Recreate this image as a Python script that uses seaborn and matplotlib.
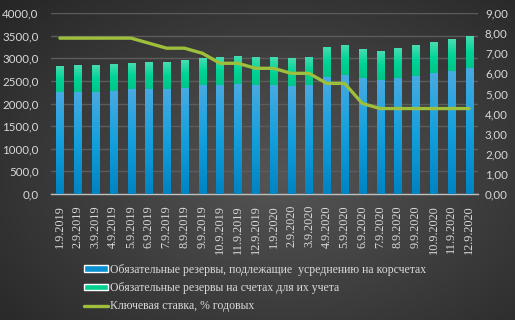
import numpy as np
import pandas as pd
import seaborn as sns
import matplotlib.pyplot as plt
from matplotlib.ticker import FuncFormatter, MultipleLocator, FixedLocator
from matplotlib.patches import Patch
from matplotlib.lines import Line2D
from matplotlib.colors import LinearSegmentedColormap

dates = ['1.9.2019', '2.9.2019', '3.9.2019', '4.9.2019', '5.9.2019', '6.9.2019',
         '7.9.2019', '8.9.2019', '9.9.2019', '10.9.2019', '11.9.2019', '12.9.2019',
         '1.9.2020', '2.9.2020', '3.9.2020', '4.9.2020', '5.9.2020', '6.9.2020',
         '7.9.2020', '8.9.2020', '9.9.2020', '10.9.2020', '11.9.2020', '12.9.2020']
# обязательные резервы, подлежащие усреднению (млрд руб.)
averaged = [2255, 2255, 2255, 2275, 2320, 2320, 2320, 2345, 2410, 2410, 2430, 2410,
            2410, 2385, 2410, 2585, 2630, 2565, 2520, 2565, 2610, 2675, 2720, 2785]
# резервы на счетах для их учета
accounts = [575, 595, 595, 600, 575, 595, 595, 615, 600, 620, 620, 620,
            620, 620, 620, 665, 665, 640, 640, 660, 685, 685, 705, 705]
key_rate = [7.75, 7.75, 7.75, 7.75, 7.75, 7.5, 7.25, 7.25, 7.0, 6.5, 6.5, 6.25,
            6.25, 6.0, 6.0, 5.5, 5.5, 4.5, 4.25, 4.25, 4.25, 4.25, 4.25, 4.25]

labels = ['Обязательные резервы, подлежащие  усреднению на корсчетах',
          'Обязательные резервы на счетах для их учета',
          'Ключевая ставка, % годовых']

df = pd.DataFrame({'date': dates, 'avg': averaged, 'acc': accounts, 'rate': key_rate})
df['total'] = df['avg'] + df['acc']

sns.set_theme(style='dark')
plt.rcParams['font.family'] = ['Liberation Serif', 'DejaVu Serif']
txt = '#d9d9d9'
num_font = ['Lato', 'DejaVu Sans']

fig = plt.figure(figsize=(5.15, 3.2), dpi=100)

# background radial gradient
bg = fig.add_axes([0, 0, 1, 1], zorder=-10)
yy, xx = np.mgrid[0:1:320j, 0:1:515j]
r = np.sqrt(((xx - 0.55) / 0.75) ** 2 + ((yy - 0.55) / 0.8) ** 2)
bg_cmap = LinearSegmentedColormap.from_list('bg', ['#555555', '#262626'])
bg.imshow(r, cmap=bg_cmap, aspect='auto', vmin=0, vmax=1.0)
bg.axis('off')

ax = fig.add_axes([51 / 515, 1 - 194 / 320, 427 / 515, 181 / 320])
ax.patch.set_alpha(0)

sns.barplot(data=df, x='date', y='total', color='#00d090', width=0.4,
            saturation=1, ax=ax, zorder=2)
sns.barplot(data=df, x='date', y='avg', color='#0a90d0', width=0.4,
            saturation=1, ax=ax, zorder=3)

# vertical gradients in bars
blue_cmap = LinearSegmentedColormap.from_list('b', ['#0084c2', '#12a0dc', '#48aae2'])
green_cmap = LinearSegmentedColormap.from_list('g', ['#00c488', '#00d496', '#48dcb2'])
n_bars = len(dates)
grad = np.linspace(0, 1, 50).reshape(-1, 1)
for i, p in enumerate(ax.patches):
    x0, y0 = p.get_x(), p.get_y()
    w, h = p.get_width(), p.get_height()
    if i < n_bars:
        ybot = df['avg'].iloc[i]
        im = ax.imshow(grad, cmap=green_cmap, origin='lower', aspect='auto',
                       extent=(x0, x0 + w, ybot, y0 + h), zorder=2)
    else:
        im = ax.imshow(grad, cmap=blue_cmap, origin='lower', aspect='auto',
                       extent=(x0, x0 + w, y0, y0 + h), zorder=3)
    im.set_clip_path(p)
    p.set_facecolor('none')
    p.set_edgecolor('none')

ax.set_xlim(-0.5, len(dates) - 0.5)
ax.set_ylim(0, 4000)

ax.yaxis.set_major_locator(MultipleLocator(500))
ax.yaxis.set_major_formatter(FuncFormatter(lambda v, pos: f'{v:.1f}'.replace('.', ',')))
ax.grid(axis='y', color='#5c5c5c', linewidth=1)
ax.grid(axis='x', visible=False)
ax.set_axisbelow(True)
ax.set_xlabel('')
ax.set_ylabel('')
ax.tick_params(axis='y', colors=txt, labelsize=8.3, length=0, pad=9)
for t in ax.get_yticklabels():
    t.set_family(num_font)
ax.tick_params(axis='x', which='major', colors=txt, labelsize=8.8, length=0,
               rotation=90, pad=8)
ax.xaxis.set_minor_locator(FixedLocator(np.arange(-0.5, len(dates), 1)))
ax.tick_params(axis='x', which='minor', length=3, color='#bfbfbf', width=1)
for s in ['left', 'right', 'top']:
    ax.spines[s].set_visible(False)
ax.spines['bottom'].set_color('#bfbfbf')
ax.spines['bottom'].set_linewidth(1)

ax2 = ax.twinx()
sns.lineplot(x=np.arange(len(dates)), y=df['rate'], color='#9dbf3c',
             linewidth=2.4, ax=ax2)
ax2.set_ylim(0, 9)
ax2.set_xlim(-0.5, len(dates) - 0.5)
ax2.yaxis.set_major_locator(MultipleLocator(1))
ax2.yaxis.set_major_formatter(FuncFormatter(lambda v, pos: f'{v:.2f}'.replace('.', ',')))
ax2.tick_params(axis='y', colors=txt, labelsize=8.3, length=0, pad=5)
for t in ax2.get_yticklabels():
    t.set_family(num_font)
ax2.set_ylabel('')
ax2.grid(False)
for s in ax2.spines.values():
    s.set_visible(False)

handles = [Patch(facecolor='#0a90d0'), Patch(facecolor='#00d090'),
           Line2D([0], [0], color='#9dbf3c', linewidth=2.4)]
leg = fig.legend(handles, labels, loc='upper left', bbox_to_anchor=(84 / 515, 1 - 264 / 320),
                 frameon=False, fontsize=8.5, handlelength=2.0, handleheight=0.5,
                 handletextpad=0.2, labelspacing=0.52, borderpad=0, borderaxespad=0)
for t in leg.get_texts():
    t.set_color(txt)

fig.savefig('out.png', dpi=100)
